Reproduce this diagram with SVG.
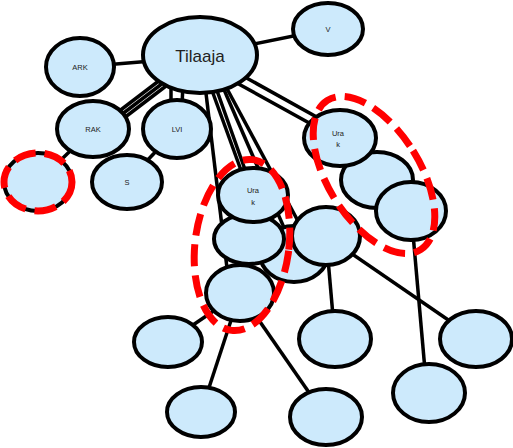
<svg xmlns="http://www.w3.org/2000/svg" width="513" height="448" viewBox="0 0 513 448">
<style>
.n{fill:#cdeafc;stroke:#000;stroke-width:4}
.c line{stroke:#000;stroke-width:3.5}
.r{fill:none;stroke:#f00;stroke-width:7;stroke-dasharray:22 9}
.t{font-family:"Liberation Sans",Arial,sans-serif;font-size:7.5px;fill:#222;text-anchor:middle}
.big{font-size:17px}
</style>
<rect width="513" height="448" fill="#fff"/>
<g id="connectors" class="c">
<line x1="200" y1="55" x2="328" y2="29"/>
<line x1="200" y1="57" x2="80" y2="67"/>
<line x1="160" y1="80" x2="118" y2="112"/>
<line x1="163" y1="83" x2="121" y2="115"/>
<line x1="166" y1="86" x2="124" y2="118"/>
<line x1="171" y1="60" x2="171" y2="129"/>
<line x1="184" y1="60" x2="181" y2="129"/>
<line x1="93" y1="129" x2="38" y2="182"/>
<line x1="177" y1="129" x2="127" y2="182"/>
<line x1="205" y1="85" x2="230" y2="293"/>
<line x1="210" y1="85" x2="250" y2="195"/>
<line x1="215" y1="85" x2="254" y2="195"/>
<line x1="222" y1="85" x2="295" y2="253"/>
<line x1="225" y1="85" x2="306" y2="236"/>
<line x1="235" y1="82" x2="340" y2="140"/>
<line x1="243" y1="76" x2="340" y2="130"/>
<line x1="240" y1="293" x2="168" y2="342"/>
<line x1="240" y1="293" x2="201" y2="412"/>
<line x1="240" y1="293" x2="326" y2="417"/>
<line x1="249" y1="239" x2="240" y2="293"/>
<line x1="326" y1="236" x2="335" y2="339"/>
<line x1="326" y1="236" x2="476" y2="339"/>
<line x1="411" y1="211" x2="427" y2="393"/>
</g>
<g id="tilaaja"><ellipse class="n" cx="200" cy="55" rx="57" ry="38"/><text class="t big" x="200" y="62">Tilaaja</text></g>
<g id="v"><ellipse class="n" cx="328" cy="29" rx="35" ry="26"/><text class="t" x="328" y="32">V</text></g>
<g id="ark"><ellipse class="n" cx="80" cy="67" rx="34" ry="29"/><text class="t" x="80" y="70">ARK</text></g>
<g id="rak"><ellipse class="n" cx="93" cy="129" rx="36" ry="28"/><text class="t" x="93" y="132">RAK</text></g>
<g id="lvi"><ellipse class="n" cx="177" cy="129" rx="34" ry="29"/><text class="t" x="177" y="132">LVI</text></g>
<g id="s"><ellipse class="n" cx="127" cy="182" rx="35" ry="27"/><text class="t" x="127" y="185">S</text></g>
<g id="left"><ellipse class="n" cx="38" cy="182" rx="34" ry="29"/><ellipse class="r" cx="38" cy="182" rx="34" ry="29"/></g>
<g id="hidden"><ellipse class="n" cx="294" cy="254" rx="34" ry="28"/></g>
<g id="chain2"><ellipse class="n" cx="249" cy="239" rx="35" ry="25"/></g>
<g id="urak1"><ellipse class="n" cx="253" cy="195" rx="35" ry="27"/><text class="t" x="253" y="193">Ura</text><text class="t" x="253" y="205">k</text></g>
<g id="mid"><ellipse class="n" cx="326" cy="236" rx="34" ry="29"/></g>
<g id="chain3"><ellipse class="n" cx="240" cy="293" rx="34" ry="28"/></g>
<g id="r2"><ellipse class="n" cx="377" cy="180" rx="36" ry="28"/></g>
<g id="urak2"><ellipse class="n" cx="340" cy="138" rx="36" ry="28"/><text class="t" x="338" y="136">Ura</text><text class="t" x="338" y="147">k</text></g>
<g id="r3"><ellipse class="n" cx="411" cy="211" rx="35" ry="29"/></g>
<g id="a"><ellipse class="n" cx="168" cy="342" rx="34" ry="25"/></g>
<g id="b"><ellipse class="n" cx="201" cy="412" rx="34" ry="25"/></g>
<g id="c"><ellipse class="n" cx="326" cy="417" rx="36" ry="28"/></g>
<g id="d"><ellipse class="n" cx="335" cy="339" rx="36" ry="28"/></g>
<g id="e"><ellipse class="n" cx="429" cy="393" rx="36" ry="29"/></g>
<g id="f"><ellipse class="n" cx="476" cy="339" rx="36" ry="28"/></g>
<g id="group-mid"><ellipse class="r" cx="242" cy="245" rx="47" ry="86" transform="rotate(7 242 245)"/></g>
<g id="group-right"><ellipse class="r" cx="374" cy="175" rx="46" ry="88" transform="rotate(-32 374 175)"/></g>
</svg>
